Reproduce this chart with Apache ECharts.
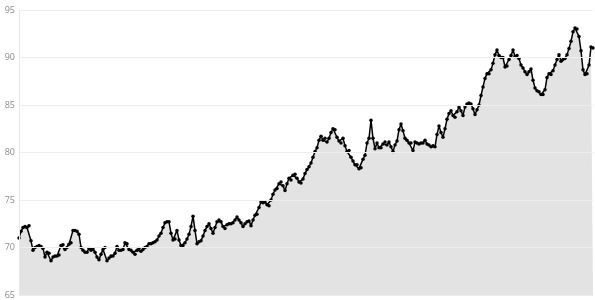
<!DOCTYPE html>
<html>
<head>
<meta charset="utf-8">
<script src="https://cdn.jsdelivr.net/npm/echarts@6/dist/echarts.min.js"></script>
<style>
html,body{margin:0;padding:0;background:#fff;}
#chart{width:595px;height:300px;}
</style>
</head>
<body>
<div id="chart"></div>
<script>
const yTicks = [65, 70, 75, 80, 85, 90, 95];
const values = [
71.0,71.7,72.1,72.2,72.1,72.3,70.7,69.7,70.0,70.1,
70.2,70.1,69.9,69.0,69.5,69.4,68.6,69.0,69.1,69.1,
69.2,70.2,70.3,69.8,70.0,70.35,70.5,71.8,71.8,71.7,
71.4,70.0,69.7,69.5,69.5,69.9,69.7,69.85,69.5,69.0,
68.7,69.3,69.8,70.0,68.6,68.9,69.1,69.1,69.4,70.1,
69.7,69.7,69.8,70.5,70.4,69.8,69.7,69.5,69.3,69.7,
69.9,69.6,69.8,70.0,70.1,70.4,70.4,70.5,70.6,70.8,
71.2,71.5,72.1,72.6,72.7,72.7,71.5,70.8,70.9,71.8,
70.8,70.2,70.2,70.5,70.9,71.4,72.2,73.3,71.8,70.4,
70.6,70.7,71.2,71.8,72.2,72.5,72.0,71.5,72.1,72.7,
72.9,72.7,72.2,72.0,72.4,72.5,72.5,72.6,72.9,73.2,
72.9,72.6,72.2,72.5,72.7,72.8,72.3,72.9,73.4,73.5,
74.2,74.8,74.7,74.8,74.5,74.4,75.0,75.6,76.05,76.2,
76.7,76.9,76.5,76.0,76.7,77.3,77.1,77.6,77.7,77.3,
76.9,76.8,77.2,77.8,78.2,78.5,78.9,79.5,80.1,80.5,
81.3,81.7,81.3,81.5,81.1,81.5,82.1,82.5,82.4,81.6,
81.2,81.0,81.5,80.7,80.1,80.2,79.5,79.1,78.7,78.7,
78.3,78.4,79.3,79.7,81.0,81.5,83.4,81.5,80.4,81.0,
80.5,80.5,80.9,81.1,80.8,81.1,80.6,80.1,80.8,81.2,
82.4,83.0,82.3,81.5,81.3,81.0,81.0,80.2,81.1,81.0,
80.9,81.0,81.0,81.3,80.9,80.8,80.6,80.7,80.6,81.9,
82.8,82.1,81.6,82.5,83.5,84.1,84.4,83.9,83.7,84.3,
84.8,84.4,83.9,84.8,85.1,85.2,85.1,84.6,84.0,84.5,
85.0,86.0,86.9,87.8,88.3,88.3,88.7,89.4,90.3,90.8,
90.2,90.0,90.0,89.0,89.1,89.8,90.2,90.8,90.1,90.2,
89.9,89.2,88.9,88.5,88.2,88.5,88.8,87.6,86.8,86.5,
86.4,86.1,86.1,86.6,87.9,88.3,88.2,88.6,89.2,89.8,
90.3,89.6,89.8,89.9,90.3,90.96,91.7,92.7,93.1,93.0,
92.2,90.7,88.7,88.2,88.3,89.2,91.1,91.0
];
const categories = values.map((v, i) => String(i + 1));

const chart = echarts.init(document.getElementById('chart'), null, {renderer: 'canvas'});
chart.setOption({
  animation: false,
  grid: {left: 19, right: 2, top: 10, bottom: 5, containLabel: false},
  xAxis: {
    type: 'category',
    data: categories,
    boundaryGap: false,
    axisLine: {show: false},
    axisTick: {show: false},
    axisLabel: {show: false},
    splitLine: {show: false}
  },
  yAxis: {
    type: 'value',
    min: yTicks[0],
    max: yTicks[yTicks.length - 1],
    interval: 5,
    z: 3,
    axisLine: {show: true, lineStyle: {color: '#e6e6e6', width: 1}},
    axisTick: {show: false},
    axisLabel: {color: '#8a8a8a', fontSize: 9, fontFamily: 'Open Sans, sans-serif', margin: 4},
    splitLine: {show: true, lineStyle: {color: '#ededed', width: 1}}
  },
  series: [{
    type: 'line',
    data: values,
    symbol: 'circle',
    symbolSize: 3.5,
    showAllSymbol: true,
    itemStyle: {color: '#000'},
    lineStyle: {color: '#000', width: 1.5},
    areaStyle: {color: '#e3e3e3', opacity: 1},
    z: 2
  }]
});
</script>
</body>
</html>
